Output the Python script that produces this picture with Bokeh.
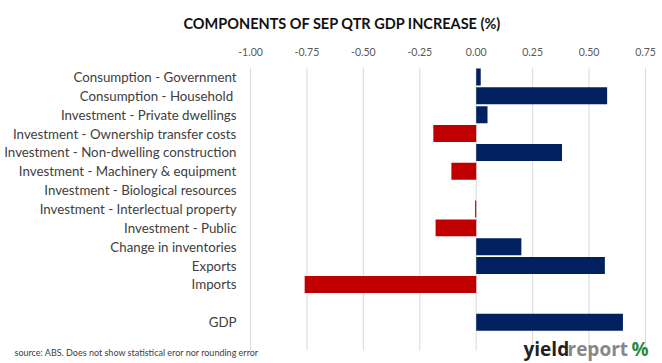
from bokeh.plotting import figure
from bokeh.models import (ColumnDataSource, Range1d, FixedTicker,
                          NumeralTickFormatter, Label)
from bokeh.core.properties import value
from bokeh.embed import file_html
from bokeh.resources import INLINE

# ---- data ----
categories = [
    "Consumption - Government",
    "Consumption - Household ",
    "Investment - Private dwellings",
    "Investment - Ownership transfer costs",
    "Investment - Non-dwelling construction",
    "Investment - Machinery & equipment",
    "Investment - Biological resources",
    "Investment - Interlectual property",
    "Investment - Public",
    "Change in inventories",
    "Exports",
    "Imports",
    "GDP",
]
values = [0.02, 0.58, 0.05, -0.19, 0.38, -0.11, 0.0, -0.005, -0.18, 0.20, 0.57, -0.76, 0.65]
x_ticks = [-1.0, -0.75, -0.5, -0.25, 0.0, 0.25, 0.5, 0.75]
title_text = "COMPONENTS OF SEP QTR GDP INCREASE (%)"
source_text = "source: ABS. Does not show statistical eror nor rounding error"

NAVY = "#002060"
RED = "#C00000"
FONT = "Lato"

# row order top->bottom, with blank spacer rows
rows = categories[:12] + [" "] + categories[12:] + ["  "]
n_rows = len(rows)
row_y = [n_rows - rows.index(c) - 0.5 for c in categories]

# ---- layout geometry (pixels in the 662x363 canvas) ----
W, H = 662, 363
FRAME_TOP = 67
AX_LEFT, AX_RIGHT = 250, 645      # pixel positions of x_ticks[0] and x_ticks[-1]
GRID_BOTTOM = 350
XPX = (AX_RIGHT - AX_LEFT) / (x_ticks[-1] - x_ticks[0])
YPX = (GRID_BOTTOM - FRAME_TOP) / n_rows

def dx(px):
    return x_ticks[0] + (px - AX_LEFT) / XPX
def dy(py):
    return (GRID_BOTTOM - py) / YPX

src = ColumnDataSource(dict(
    cat=categories,
    y=row_y,
    val=values,
    color=[RED if v < 0 else NAVY for v in values],
))

p = figure(width=W, height=H,
           x_range=Range1d(dx(0), dx(W)),
           y_range=Range1d(dy(H), dy(FRAME_TOP)),
           x_axis_location="above", y_axis_location=None,
           output_backend="svg", toolbar_location=None,
           min_border_left=0, min_border_right=0,
           min_border_top=FRAME_TOP, min_border_bottom=0)

p.outline_line_color = None
p.background_fill_color = "white"
p.border_fill_color = "white"
p.xgrid.grid_line_color = None
p.ygrid.grid_line_color = None

# vertical grid lines spanning the category rows
p.segment(x0=x_ticks, x1=x_ticks, y0=[0] * len(x_ticks), y1=[n_rows] * len(x_ticks),
          line_color="#D9D9D9", line_width=1)

# bars
p.hbar(y="y", left=0, right="val", height=0.9, color="color",
       line_color=None, source=src)

# category labels (right-aligned just left of the value axis start)
p.text(x=x_ticks[0], y="y", text="cat", source=src, x_offset=-14,
       text_align="right", text_baseline="middle",
       text_font=value(FONT), text_font_size="13.3px", text_color="#404040")

# title
p.title.text = title_text
p.title.align = "left"
p.title.offset = 183
p.title.standoff = 25
p.title.text_font = FONT
p.title.text_font_style = "bold"
p.title.text_font_size = "14.5px"
p.title.text_color = "#111111"

# x axis (top)
xa = p.xaxis[0]
xa.ticker = FixedTicker(ticks=x_ticks)
xa.formatter = NumeralTickFormatter(format="0.00")
xa.axis_line_color = None
xa.major_tick_line_color = None
xa.minor_tick_line_color = None
xa.major_label_text_font = FONT
xa.major_label_text_font_size = "10.5px"
xa.major_label_text_color = "#595959"
xa.major_label_standoff = 6

# source note
p.add_layout(Label(x=dx(14), y=dy(352),
                   text=source_text, text_align="left", text_baseline="middle",
                   text_font=FONT, text_font_size="9px", text_color="#404040"))
# logo
for txt, px, col in [("yield", 523, "#231F20"), ("report", 567, "#878787"), ("%", 631, "#2E8B3E")]:
    p.add_layout(Label(x=dx(px), y=dy(361), text=txt,
                       text_align="left", text_baseline="bottom",
                       text_font="Open Sans", text_font_style="bold", text_font_size="19px",
                       text_color=col))

open("out.html", "w").write(file_html(p, INLINE))
